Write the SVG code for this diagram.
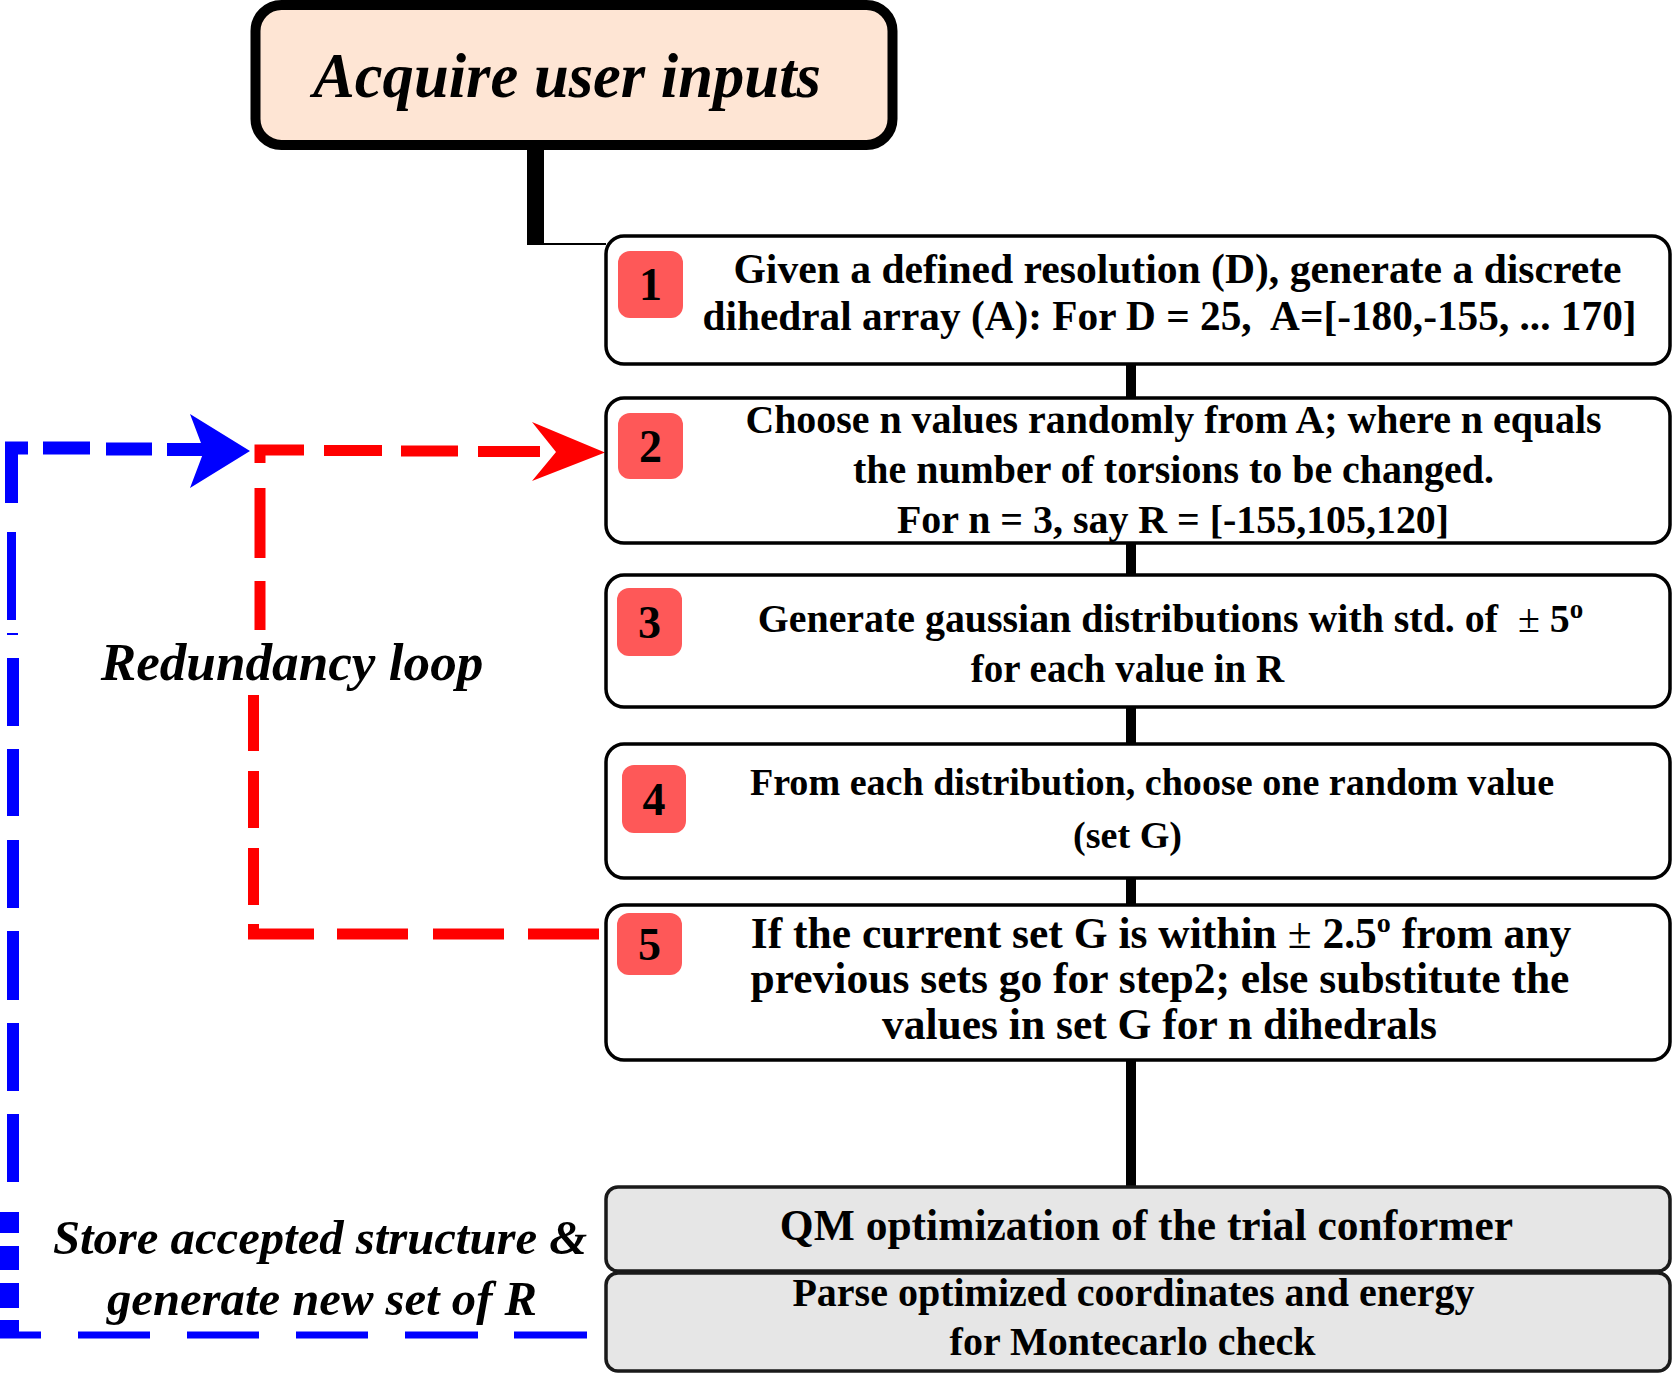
<svg xmlns="http://www.w3.org/2000/svg" width="1674" height="1374" viewBox="0 0 1674 1374">
<style>
.t{font-family:"Liberation Serif","Times New Roman",serif;font-weight:bold;fill:#000;text-anchor:middle}
.it{font-style:italic}
.box{fill:#fff;stroke:#000;stroke-width:3.5}
.gbox{fill:#e6e6e6;stroke:#1a1a1a;stroke-width:3.5}
.badge{fill:#fe5858}
.num{font-family:"Liberation Serif","Times New Roman",serif;font-weight:bold;font-size:46px;text-anchor:middle;fill:#000}
.pm{font-weight:normal}
.red{fill:none;stroke:#ff0000;stroke-width:11}
.blue{fill:none;stroke:#0000ff}
</style>
<rect width="1674" height="1374" fill="#fff"/>

<g id="connectors">
  <line x1="535.5" y1="146" x2="535.5" y2="245" stroke="#000" stroke-width="17"/>
  <line x1="535" y1="244" x2="606" y2="244" stroke="#000" stroke-width="2"/>
  <g stroke="#000" stroke-width="10">
    <line x1="1131" y1="364" x2="1131" y2="398"/>
    <line x1="1131" y1="543" x2="1131" y2="575"/>
    <line x1="1131" y1="707" x2="1131" y2="744"/>
    <line x1="1131" y1="878" x2="1131" y2="905"/>
    <line x1="1131" y1="1060" x2="1131" y2="1187"/>
  </g>
  <g id="redundancy-loop">
    <path class="red" d="M260 463V450H304M324 450.5H382M401 451H458M478 451.5H540M260 488V558M260 581V630M253.5 695V751M253.5 771V828M253.5 848V905M253.5 924V934H314M337 934H408M433 934H504M528 934H599"/>
    <polygon fill="#ff0000" points="605,452.5 532,422 556,452 532,481"/>
  </g>
  <g id="store-loop">
    <path class="blue" stroke-width="13" d="M11.5 503V448H28M43 448H90M106 449H152M167 449.5H208"/>
    <polygon fill="#0000ff" points="250,451 190,414 204,451 190,488"/>
    <path class="blue" stroke-width="9" d="M11.5 532V620"/>
    <path class="blue" stroke-width="2" d="M7 634H18"/>
    <path class="blue" stroke-width="12" d="M13 658V726M13 749V816M13 840V908M13 931V1000M13 1023V1091M13 1114V1182"/>
    <path class="blue" stroke-width="19" d="M9.5 1212V1233M9.5 1246V1270M9.5 1283V1308M9.5 1320V1338"/>
    <path class="blue" stroke-width="7" d="M0 1335H41M78 1335H150M187 1335H259M296 1335H368M405 1335H478M514 1335H587"/>
  </g>
</g>

<g id="acquire">
  <rect x="255.5" y="5" width="637" height="140" rx="26" fill="#fee5d4" stroke="#000" stroke-width="10"/>
  <text class="t it" x="567" y="97" font-size="62.6">Acquire user inputs</text>
</g>

<g id="step1">
  <rect class="box" x="606" y="236" width="1064" height="128" rx="18"/>
  <rect class="badge" x="618" y="251" width="65" height="67" rx="12"/>
  <text class="num" x="650.5" y="300">1</text>
  <text class="t" font-size="41.6" x="1177.5" y="283">Given a defined resolution (D), generate a discrete</text>
  <text class="t" font-size="41.3" x="1169.5" y="330" xml:space="preserve">dihedral array (A): For D = 25,  A=[-180,-155, ... 170]</text>
</g>

<g id="step2">
  <rect class="box" x="606" y="398" width="1064" height="145" rx="18"/>
  <rect class="badge" x="618" y="413" width="65" height="66" rx="12"/>
  <text class="num" x="650.5" y="462">2</text>
  <text class="t" font-size="39.9" x="1173.5" y="433">Choose n values randomly from A; where n equals</text>
  <text class="t" font-size="39.9" x="1173.5" y="483">the number of torsions to be changed.</text>
  <text class="t" font-size="39.9" x="1173" y="533">For n = 3, say R = [-155,105,120]</text>
</g>

<g id="step3">
  <rect class="box" x="606" y="575" width="1064" height="132" rx="18"/>
  <rect class="badge" x="617" y="588" width="65" height="68" rx="12"/>
  <text class="num" x="649.5" y="638">3</text>
  <text class="t" font-size="39.9" x="1170.5" y="632" xml:space="preserve">Generate gaussian distributions with std. of  <tspan class="pm">±</tspan> 5<tspan font-size="27" dy="-14">o</tspan></text>
  <text class="t" font-size="39" x="1127.5" y="682">for each value in R</text>
</g>

<g id="step4">
  <rect class="box" x="606" y="744" width="1064" height="134" rx="18"/>
  <rect class="badge" x="622" y="765" width="64" height="68" rx="12"/>
  <text class="num" x="654" y="815">4</text>
  <text class="t" font-size="38.1" x="1152" y="795">From each distribution, choose one random value</text>
  <text class="t" font-size="38.1" x="1127.5" y="848">(set G)</text>
</g>

<g id="step5">
  <rect class="box" x="606" y="905" width="1064" height="155" rx="18"/>
  <rect class="badge" x="617" y="913" width="65" height="62" rx="12"/>
  <text class="num" x="649.5" y="960">5</text>
  <text class="t" font-size="43.5" x="1161" y="948">If the current set G is within <tspan class="pm">±</tspan> 2.5<tspan font-size="28" dy="-16">o</tspan><tspan dy="16"> from any</tspan></text>
  <text class="t" font-size="43.5" x="1160" y="993">previous sets go for step2; else substitute the</text>
  <text class="t" font-size="43.5" x="1159.5" y="1039">values in set G for n dihedrals</text>
</g>

<g id="qm">
  <rect class="gbox" x="606" y="1187" width="1064" height="84" rx="12"/>
  <text class="t" font-size="43.5" x="1146.5" y="1240">QM optimization of the trial conformer</text>
</g>

<g id="parse">
  <rect class="gbox" x="606" y="1273" width="1064" height="98" rx="12"/>
  <text class="t" font-size="40" x="1133.5" y="1306">Parse optimized coordinates and energy</text>
  <text class="t" font-size="40" x="1132.5" y="1355">for Montecarlo check</text>
</g>

<g id="label-redundancy">
  <text class="t it" font-size="53.2" x="292" y="680">Redundancy loop</text>
</g>

<g id="label-store">
  <text class="t it" font-size="48.7" x="320" y="1254">Store accepted structure &amp;</text>
  <text class="t it" font-size="48.7" x="322" y="1315">generate new set of R</text>
</g>
</svg>
